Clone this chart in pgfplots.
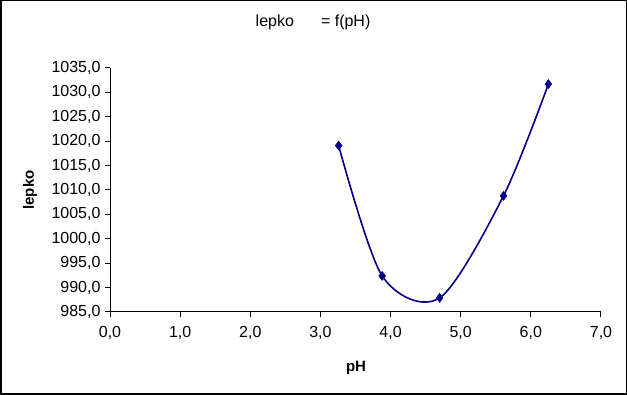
\documentclass[border=0pt]{standalone}
\usepackage{pgfplots}
\pgfplotsset{compat=1.18}
\usepackage{fontspec}
\setmainfont{Liberation Sans}
\definecolor{navyline}{RGB}{0,0,128}
\begin{document}
\begin{tikzpicture}[x=1pt,y=1pt]
\draw[line width=1.5pt] (0.75,0.75) rectangle (626.25,394.25);
\begin{axis}[
  at={(110pt,83pt)}, anchor=south west,
  scale only axis, width=491pt, height=244pt,
  xmin=0, xmax=7, ymin=985, ymax=1035,
  xtick={0,1,...,7}, ytick={985,990,...,1035},
  axis lines*=left,
  tick align=outside,
  major tick length=5pt,
  every tick/.style={black, line width=1pt},
  axis line style={line width=1pt},
  tick label style={font=\fontsize{16}{18}\selectfont},
  xticklabel style={yshift=-6pt},
  yticklabel style={xshift=-1pt},
  /pgf/number format/assume math mode=true,
  /pgf/number format/.cd, fixed, fixed zerofill, precision=1, use comma, 1000 sep={},
]
\addplot[navyline, line width=1.6pt, smooth, tension=0.5,
  mark=diamond*, mark size=4.5pt, mark options={fill=navyline, draw=navyline, line width=0.5pt}]
  coordinates {(3.26,1019.1) (3.88,992.4) (4.70,987.9) (5.61,1008.8) (6.25,1031.7)};
\end{axis}
\node[font=\fontsize{16}{18}\selectfont, anchor=east] at (297.5,373) {lepko};
\node[font=\fontsize{16}{18}\selectfont, anchor=west] at (317.5,373) {= f(pH)};
\node[font=\bfseries\fontsize{15}{17}\selectfont, rotate=90] at (30,205) {lepko};
\node[font=\bfseries\fontsize{15}{17}\selectfont] at (356,27) {pH};
\end{tikzpicture}
\end{document}
